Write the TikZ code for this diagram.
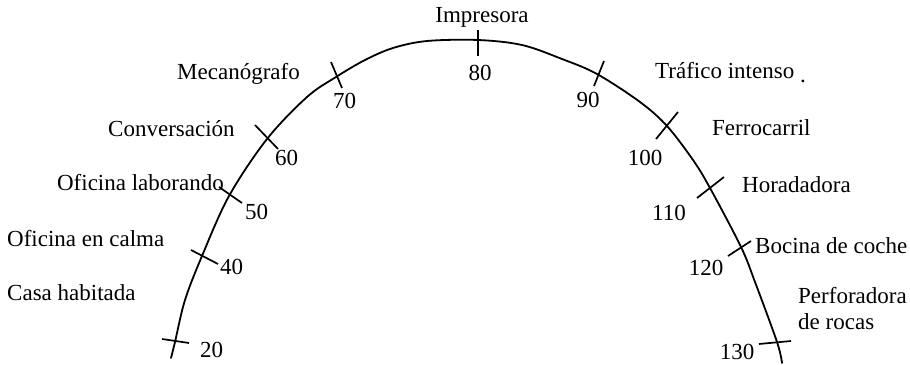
\documentclass[tikz,border=0pt]{standalone}
\usepackage{fontspec}
\setmainfont{Liberation Serif}
\begin{document}
\begin{tikzpicture}[x=1pt,y=-1pt,
  lbl/.style={inner sep=0pt,font=\fontsize{23}{27}\selectfont},
  curve/.style={line width=1.8pt,line cap=round,line join=round},
  tickmark/.style={line width=1.7pt}]
\useasboundingbox (0,0) rectangle (910,364);
% arch
\draw[curve] plot[smooth,tension=0.55] coordinates {
  (171,358) (175,342) (185,300) (202,256) (229,196) (267,139)
  (307,97) (336,77) (365,60) (393,48) (427,41) (478,40) (522,45)
  (562,59) (597,74) (640,102) (667,126) (693,160) (710,188)
  (741,247) (755,282) (777,342) (782,363)};
% tick marks
\draw[tickmark] (162,339) -- (189,343);
\draw[tickmark] (191,250) -- (218,264);
\draw[tickmark] (219,187) -- (242,203);
\draw[tickmark] (255,125) -- (278,149);
\draw[tickmark] (331,62) -- (342,88);
\draw[tickmark] (478,30) -- (478,56);
\draw[tickmark] (604,61) -- (594,86);
\draw[tickmark] (678,112) -- (656,139);
\draw[tickmark] (724,177) -- (697,198);
\draw[tickmark] (751,241) -- (728,256);
\draw[tickmark] (759,344) -- (791,341);
% numbers
\node[lbl,anchor=base west] (n20) at (200,357) {20};
\node[lbl,anchor=base west] (n40) at (220,274) {40};
\node[lbl,anchor=base west] (n50) at (245,219) {50};
\node[lbl,anchor=base west] (n60) at (275,165) {60};
\node[lbl,anchor=base west] (n70) at (333,108) {70};
\node[lbl,anchor=base] (n80) at (480,80) {80};
\node[lbl,anchor=base] (n90) at (588,107) {90};
\node[lbl,anchor=base] (n100) at (645,165) {100};
\node[lbl,anchor=base] (n110) at (669,220) {110};
\node[lbl,anchor=base] (n120) at (706,275) {120};
\node[lbl,anchor=base] (n130) at (737,359) {130};
% source labels
\node[lbl,anchor=base] (imp) at (482,22) {Impresora};
\node[lbl,anchor=base west] (mec) at (177,79) {Mecanógrafo};
\node[lbl,anchor=base west] (con) at (108,136) {Conversación};
\node[lbl,anchor=base east] (ofl) at (224,190) {Oficina laborando};
\node[lbl,anchor=base west] (ofc) at (7,246) {Oficina en calma};
\node[lbl,anchor=base west] (cas) at (7,300) {Casa habitada};
\node[lbl,anchor=base west] (tra) at (655,78) {Tráfico intenso};
\node[lbl,anchor=base west] (dot) at (800,82) {.};
\node[lbl,anchor=base west] (fer) at (712,135) {Ferrocarril};
\node[lbl,anchor=base west] (hor) at (742,192) {Horadadora};
\node[lbl,anchor=base west] (boc) at (755,253) {Bocina de coche};
\node[lbl,anchor=base west] (per) at (798,303) {Perforadora};
\node[lbl,anchor=base west] (roc) at (798,329) {de rocas};
\end{tikzpicture}
\end{document}
